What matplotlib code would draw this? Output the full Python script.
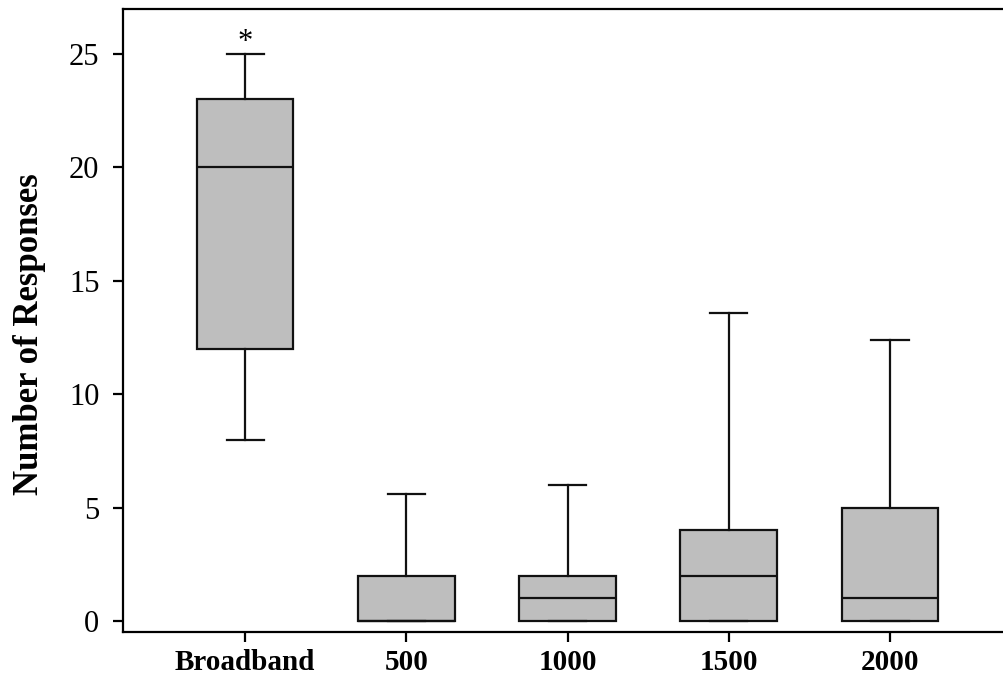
import matplotlib
matplotlib.use("Agg")
import matplotlib.pyplot as plt

categories = ["Broadband", "500", "1000", "1500", "2000"]
whisker_low = [8, 0, 0, 0, 0]
q1 = [12, 0, 0, 0, 0]
median = [20, 0, 1, 2, 1]
q3 = [23, 2, 2, 4, 5]
whisker_high = [25, 5.6, 6, 13.6, 12.4]

plt.rcParams['font.family'] = ['Liberation Serif', 'DejaVu Serif']

stats = []
for i, name in enumerate(categories):
    stats.append({
        'label': name,
        'whislo': whisker_low[i],
        'q1': q1[i],
        'med': median[i],
        'q3': q3[i],
        'whishi': whisker_high[i],
        'fliers': [],
    })

fig = plt.figure(figsize=(10.04, 6.79), dpi=100)
ax = fig.add_axes([0.1225, 0.0692, 0.8775, 0.9175])

lw = 1.6
ax.bxp(stats, positions=range(1, 6), widths=0.6, patch_artist=True,
       showfliers=False,
       boxprops=dict(facecolor='#bebebe', edgecolor='#111111', linewidth=lw),
       medianprops=dict(color='#111111', linewidth=lw),
       whiskerprops=dict(color='#111111', linewidth=lw),
       capprops=dict(color='#111111', linewidth=lw),
       capwidths=0.23)

# significance mark above the broadband whisker
ax.text(1, 24.85, '*', ha='center', va='bottom', fontsize=22)

ax.set_xlim(0.243, 5.707)
ax.set_ylim(-0.485, 26.98)
ax.set_yticks([0, 5, 10, 15, 20, 25])
ax.set_xticks(range(1, 6))
ax.set_xticklabels(categories, fontweight='bold', fontsize=21)
ax.tick_params(axis='y', labelsize=22, length=7, width=lw, pad=10)
ax.tick_params(axis='x', length=7, width=lw, pad=5)
ax.set_ylabel('Number of Responses', fontsize=25, fontweight='bold')
ax.yaxis.set_label_coords(-0.087, 0.478)

ax.spines['right'].set_visible(False)
for s in ['left', 'top', 'bottom']:
    ax.spines[s].set_linewidth(lw)

fig.savefig('out.png', dpi=100)
